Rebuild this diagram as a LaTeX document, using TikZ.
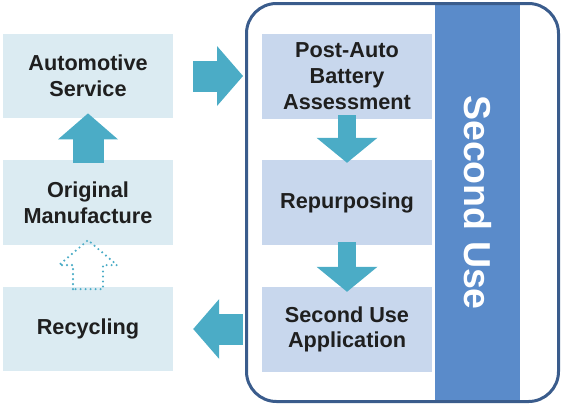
\documentclass[tikz,border=0pt]{standalone}
\usepackage{fontspec}
\setsansfont{Liberation Sans}
\usetikzlibrary{arrows.meta, positioning, calc}

\definecolor{cLife}{HTML}{DBEBF2}
\definecolor{cUse}{HTML}{C8D7ED}
\definecolor{cBar}{HTML}{5A8BCA}
\definecolor{cFrame}{HTML}{3A5C8C}
\definecolor{cFlow}{HTML}{4BACC6}

\begin{document}
\begin{tikzpicture}[x=0.3mm, y=-0.3mm,
  every node/.style={font=\sffamily\bfseries\fontsize{18.5}{22}\selectfont, align=center, text=black!88},
  lifebox/.style={fill=cLife, minimum width=51mm, minimum height=25.3mm, inner sep=0pt},
  usebox/.style={fill=cUse, minimum width=51mm, minimum height=25.5mm, inner sep=0pt},
  bigflow/.style={draw=cFlow, line width=9.3mm, -{Triangle[length=7.8mm, width=18mm, line width=0pt]}},
  smallflow/.style={draw=cFlow, line width=5.4mm, -{Triangle[length=7.5mm, width=18.3mm, line width=0pt]}},
  flowdots/.style={draw=cFlow, line width=0.7mm, line cap=round, dash pattern=on 0pt off 1.5mm}]
    \useasboundingbox (0,0) rectangle (569,406);
    % life cycle, left column
    \node[lifebox] (auto) at (88,76) {Automotive\\Service};
    \node[lifebox] (orig) at (88,202.5) {Original\\Manufacture};
    \node[lifebox] (recy) at (88,329) {Recycling};
    % second use frame
    \node[fill=cBar, rotate=-90, minimum width=119.4mm, minimum height=25.5mm, inner sep=0pt, text=white,
          font=\sffamily\bfseries\fontsize{32}{36}\selectfont] (bar) at (477.5,202.5) {Second Use};
    \node[draw=cFrame, line width=0.9mm, rounded corners=9mm, minimum width=93.6mm, minimum height=119.4mm] (second) at (402.5,202.5) {};
    \node[usebox] (assess) at (347,76) {Post-Auto\\Battery\\Assessment};
    \node[usebox] (repurp) at (347,202.5) {Repurposing};
    \node[usebox] (app) at (347,329.5) {Second Use\\Application};
    % flows
    \draw[bigflow, shorten <=-0.9mm, shorten >=-1.5mm] (orig.north) -- (auto.south);
    \draw[bigflow, shorten <=6mm, shorten >=0.6mm] (auto.east) -- (auto.east -| second.west);
    \draw[bigflow, shorten <=0.6mm, shorten >=6mm] (recy.east -| second.west) -- (recy.east);
    \draw[smallflow, shorten <=-1mm, shorten >=-0.9mm] (assess.south) -- (repurp.north);
    \draw[smallflow, shorten <=-0.9mm, shorten >=-1.5mm] (repurp.south) -- (app.north);
    \draw[flowdots, shift={(recy.north)}] (-15,2.5) -- (-15,-21.5) -- (-29,-21.5) -- (0,-46.5)
        -- (29,-21.5) -- (15,-21.5) -- (15,2.5) -- cycle;
\end{tikzpicture}
\end{document}
